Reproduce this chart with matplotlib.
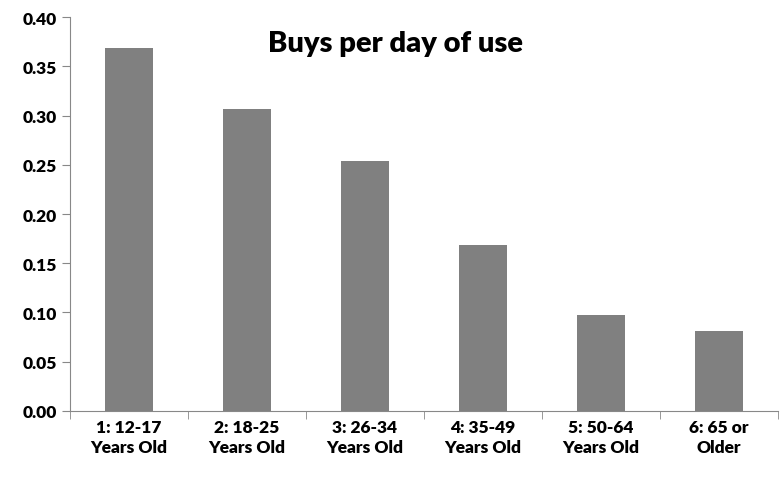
import matplotlib
matplotlib.use("Agg")
import matplotlib.pyplot as plt
import numpy as np

categories = ["1: 12-17\nYears Old", "2: 18-25\nYears Old", "3: 26-34\nYears Old",
              "4: 35-49\nYears Old", "5: 50-64\nYears Old", "6: 65 or\nOlder"]
values = [0.3685, 0.3066, 0.2538, 0.1685, 0.0975, 0.0812]
title = "Buys per day of use"

plt.rcParams['font.family'] = ['Lato', 'DejaVu Sans']
fig = plt.figure(figsize=(7.84, 4.81), dpi=100)
ax = fig.add_axes([0.089, 0.1435, 0.903, 0.819])
x = np.arange(len(categories))
ax.bar(x, values, width=0.41, color='#808080')
ax.set_xlim(-0.5, len(categories) - 0.5)
ax.set_ylim(0, 0.40)
ax.set_yticks(np.arange(0, 0.401, 0.05))
ax.set_yticklabels([f"{v:.2f}" for v in np.arange(0, 0.401, 0.05)], fontsize=12.5, fontweight='heavy')
ax.set_xticks(x)
ax.set_xticklabels(categories, fontsize=12.5, fontweight='heavy', linespacing=1.3)
ax.tick_params(axis='x', length=0, pad=6)
ax.set_xticks(np.arange(-0.5, len(categories), 1), minor=True)
ax.tick_params(axis='x', which='minor', length=6, color='#888888')
ax.tick_params(axis='y', length=6, color='#888888')
for s in ['top', 'right']:
    ax.spines[s].set_visible(False)
for s in ['left', 'bottom']:
    ax.spines[s].set_color('#888888')
ax.text(0.46, 0.935, title, transform=ax.transAxes, ha='center', va='center',
        fontsize=21, fontweight='heavy')
fig.savefig("out.png", dpi=100)
